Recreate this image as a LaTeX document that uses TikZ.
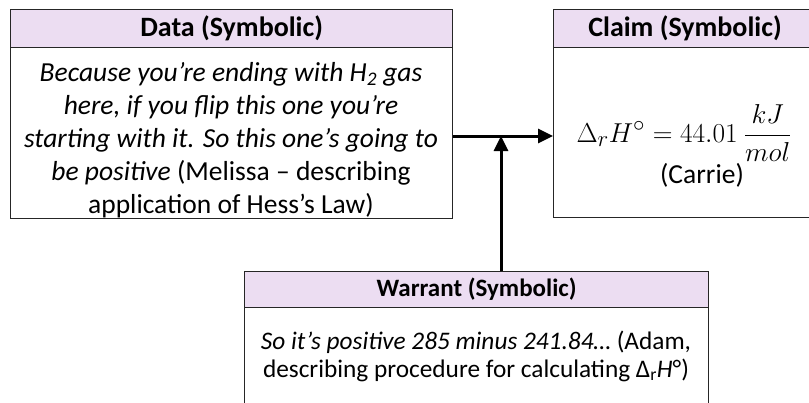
\documentclass[tikz,border=0pt]{standalone}
\usepackage{graphicx}
\usepackage{fontspec}
\setmainfont{Carlito}
\usetikzlibrary{arrows.meta}
\definecolor{headfill}{RGB}{236,221,242}
\begin{document}
\begin{tikzpicture}[x=1pt,y=-1pt,
  boxline/.style={draw=black!85, line width=1.3pt},
  headbox/.style={boxline, fill=headfill, inner sep=0pt, anchor=north west},
  bodybox/.style={boxline, fill=white, inner sep=0pt, anchor=north west},
  headtext/.style={font=\fontsize{28}{32}\selectfont\bfseries, inner sep=0pt},
  bodytext/.style={font=\fontsize{27.5}{33}\selectfont, align=center, inner sep=0pt},
  link/.style={line width=3pt, -{Triangle[length=15pt,width=14pt]}}]
\useasboundingbox (0,0) rectangle (809,402);
\begin{scope}
\clip (0,0) rectangle (809,402);
% Data
\node[headbox, minimum width=442pt, minimum height=38pt] (dhead) at (10,9) {};
\node[headtext] (dtitle) at (dhead.center) {Data (Symbolic)};
\node[bodybox, minimum width=442pt, minimum height=171pt] (dbody) at (10,47) {};
\node[bodytext] (dtext) at (231,140) {\itshape Because you’re ending with H\textsubscript{2} gas\\
\itshape here, if you flip this one you’re\\
\itshape starting with it. So this one’s going to\\
{\itshape be positive} (Melissa – describing\\
application of Hess’s Law)};
% Claim
\node[headbox, minimum width=280pt, minimum height=38pt] (chead) at (553,9) {};
\node[headtext] (ctitle) at (685,28) {Claim (Symbolic)};
\node[bodybox, minimum width=280pt, minimum height=170pt] (cbody) at (553,47) {};
\node[inner sep=0pt, font=\fontsize{24.88}{30}\selectfont] (cmath) at (684,133) {\scalebox{1.1}{$\displaystyle\Delta_r H^{\circ} = 44.01\ \frac{kJ}{mol}$}};
\node[bodytext] (cname) at (702,175) {(Carrie)};
% Warrant
\node[headbox, minimum width=464pt, minimum height=36pt] (whead) at (244,271) {};
\node[headtext, font=\fontsize{25}{30}\selectfont\bfseries] (wtitle) at (whead.center) {Warrant (Symbolic)};
\node[bodybox, minimum width=464pt, minimum height=120pt] (wbody) at (244,307) {};
\node[bodytext, font=\fontsize{25.3}{28}\selectfont] (wtext) at (476,356) {{\itshape So it’s positive 285 minus 241.84…} (Adam,\\
describing procedure for calculating Δ\textsubscript{r}\textit{H}°)};
\end{scope}
% Connectors
\coordinate (j) at (501,136);
\draw[link] (j -| dbody.east) -- (j -| cbody.west);
\draw[link] (whead.north -| j) -- (j);
\end{tikzpicture}
\end{document}
